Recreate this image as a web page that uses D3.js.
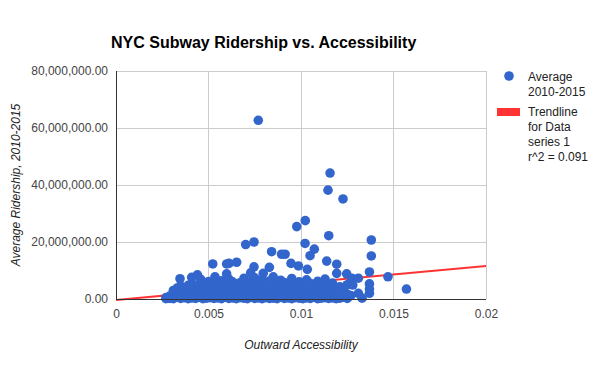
<!DOCTYPE html>
<html>
<head>
<meta charset="utf-8">
<script src="https://cdn.jsdelivr.net/npm/d3@7"></script>
<style>
body{margin:0;background:#fff;}
text{font-family:"Liberation Sans",Arial,sans-serif;}
</style>
</head>
<body>
<div id="plot"></div>
<script>
// outward accessibility vs average ridership (millions)
var stations = [
[0.0027,0.1],[0.0027,0.5],[0.0029,0.2],[0.0029,1.0],[0.0029,0.4],
[0.0031,0.1],[0.0031,1.5],[0.0031,3.0],[0.0033,0.6],[0.0033,2.2],[0.0033,3.8],
[0.0035,0.2],[0.0035,1.2],[0.0035,2.8],[0.0035,4.5],[0.0037,0.5],[0.0037,1.8],[0.0037,3.5],
[0.0039,0.1],[0.0039,1.0],[0.0039,2.6],[0.0039,4.8],[0.0041,0.4],[0.0041,2.0],[0.0041,3.4],[0.0041,5.5],
[0.0043,0.2],[0.0043,1.4],[0.0043,2.9],[0.0043,4.2],[0.0045,0.6],[0.0045,1.9],[0.0045,3.6],[0.0045,5.2],
[0.0047,0.1],[0.0047,1.2],[0.0047,2.5],[0.0047,4.4],[0.0049,0.3],[0.0049,1.7],[0.0049,3.1],[0.0049,5.6],
[0.0051,0.5],[0.0051,2.2],[0.0051,4.0],[0.0053,0.2],[0.0053,1.1],[0.0053,2.8],[0.0053,4.7],[0.0053,6.2],
[0.0055,0.4],[0.0055,1.6],[0.0055,3.3],[0.0055,5.0],[0.0057,0.1],[0.0057,2.0],[0.0057,3.7],[0.0057,6.4],
[0.0059,0.6],[0.0059,1.3],[0.0059,2.6],[0.0059,4.5],[0.0061,0.2],[0.0061,1.8],[0.0061,3.2],[0.0061,5.3],[0.0061,7.0],
[0.0063,0.4],[0.0063,1.0],[0.0063,2.4],[0.0063,4.1],[0.0063,6.0],[0.0065,0.1],[0.0065,1.5],[0.0065,3.0],[0.0065,4.8],
[0.0067,0.5],[0.0067,2.1],[0.0067,3.6],[0.0067,5.7],[0.0069,0.3],[0.0069,1.2],[0.0069,2.7],[0.0069,4.3],[0.0069,6.5],
[0.0071,0.1],[0.0071,1.7],[0.0071,3.4],[0.0071,5.1],[0.0073,0.6],[0.0073,2.3],[0.0073,4.0],[0.0073,6.1],
[0.0075,0.2],[0.0075,1.4],[0.0075,2.9],[0.0075,4.6],[0.0075,7.4],[0.0077,0.4],[0.0077,1.9],[0.0077,3.5],[0.0077,5.5],
[0.0079,0.1],[0.0079,1.1],[0.0079,2.6],[0.0079,4.2],[0.0079,6.8],[0.0081,0.5],[0.0081,2.0],[0.0081,3.3],[0.0081,5.0],
[0.0083,0.2],[0.0083,1.6],[0.0083,3.8],[0.0083,6.3],[0.0085,0.3],[0.0085,1.3],[0.0085,2.8],[0.0085,4.5],[0.0085,7.8],
[0.0087,0.1],[0.0087,2.2],[0.0087,3.6],[0.0087,5.4],[0.0089,0.6],[0.0089,1.4],[0.0089,3.0],[0.0089,4.8],[0.0089,6.6],
[0.0091,0.2],[0.0091,1.8],[0.0091,3.4],[0.0091,5.8],[0.0093,0.4],[0.0093,1.0],[0.0093,2.5],[0.0093,4.1],
[0.0095,0.1],[0.0095,1.6],[0.0095,3.2],[0.0095,5.2],[0.0095,7.2],[0.0097,0.5],[0.0097,2.0],[0.0097,3.7],[0.0097,4.6],
[0.0099,0.3],[0.0099,1.2],[0.0099,2.9],[0.0099,6.0],[0.0101,0.1],[0.0101,1.7],[0.0101,3.5],[0.0101,5.0],
[0.0103,0.4],[0.0103,2.3],[0.0103,4.2],[0.0103,6.7],[0.0105,0.2],[0.0105,1.1],[0.0105,2.7],[0.0105,5.5],
[0.0107,0.6],[0.0107,1.9],[0.0107,3.3],[0.0107,4.4],[0.0109,0.1],[0.0109,1.4],[0.0109,3.9],[0.0109,6.2],
[0.0111,0.3],[0.0111,2.1],[0.0111,3.0],[0.0111,5.1],[0.0113,0.5],[0.0113,1.3],[0.0113,2.6],[0.0113,4.5],[0.0113,7.0],
[0.0115,0.2],[0.0115,1.8],[0.0115,3.6],[0.0117,0.4],[0.0117,1.0],[0.0117,2.4],[0.0117,5.6],
[0.0119,0.1],[0.0119,1.5],[0.0119,3.2],[0.0121,0.3],[0.0121,2.0],[0.0121,4.3],
[0.0123,0.6],[0.0123,1.2],[0.0123,2.8],[0.0125,0.2],[0.0125,1.7],[0.0125,5.0],
[0.01265,5.6],[0.0127,1.2],[0.01275,7.3],[0.0128,4.9],[0.0131,7.3],[0.0131,2.0],[0.0133,0.3],
[0.0137,2.0],[0.0137,3.5],[0.0137,5.3],[0.0137,9.5],[0.0138,15.1],[0.0138,20.7],[0.0147,7.8],[0.0157,3.5],
[0.00769,62.7],[0.01157,44.2],[0.01146,38.2],[0.01227,35.1],[0.01023,27.5],[0.00977,25.4],[0.0115,22.2],
[0.00746,20.0],[0.00701,19.1],[0.01022,19.5],[0.00841,16.6],[0.00895,15.7],[0.00914,15.7],[0.01072,17.5],
[0.01049,15.2],[0.00652,12.9],[0.00946,12.5],[0.00986,11.6],[0.01139,13.3],[0.01193,12.2],[0.00746,11.3],
[0.00829,11.1],[0.00611,12.5],[0.00523,12.3],[0.00598,12.3],[0.00728,9.2],[0.00796,9.0],[0.01034,10.4],
[0.01247,8.8],[0.01193,9.0],[0.00692,7.3],[0.00346,7.1],[0.00409,7.6],[0.00440,8.5],[0.00458,6.9],
[0.00535,7.8],[0.00598,8.8],[0.00501,6.1]
];

var xTicks = [0, 0.005, 0.01, 0.015, 0.02];
var yTicks = [0, 20, 40, 60, 80];
// trendline y = slope*x + intercept (millions), r^2 = 0.091
var trendSlope = 597;
var trendIntercept = -0.35;
var legendSeries = ['Average', '2010-2015'];
var legendTrend = ['Trendline', 'for Data', 'series 1', 'r^2 = 0.091'];

var W = 600, H = 371;
var margin = {t:71, r:114, b:72, l:116};

var svg = d3.select('#plot').append('svg')
	.attr('width', W)
	.attr('height', H);

var x = d3.scaleLinear().domain([0, 0.02]).range([margin.l, W - margin.r]);
var y = d3.scaleLinear().domain([0, 80]).range([H - margin.b, margin.t]);

// gridlines
svg.append('g').selectAll('line').data(yTicks.slice(1)).enter().append('line')
	.attr('x1', x(0)).attr('x2', x(0.02))
	.attr('y1', function(d){return y(d);}).attr('y2', function(d){return y(d);})
	.attr('stroke', '#cccccc').attr('stroke-width', 1).attr('shape-rendering', 'crispEdges');
svg.append('g').selectAll('line').data(xTicks.slice(1)).enter().append('line')
	.attr('x1', function(d){return x(d);}).attr('x2', function(d){return x(d);})
	.attr('y1', y(0)).attr('y2', y(80))
	.attr('stroke', '#cccccc').attr('stroke-width', 1).attr('shape-rendering', 'crispEdges');

// axes, labels only
var yAxis = d3.axisLeft(y).tickValues(yTicks).tickSize(0).tickPadding(8)
	.tickFormat(function(d){ return d3.format(',.2f')(d * 1e6); });
var gy = svg.append('g').attr('transform', 'translate(' + x(0) + ',0)').call(yAxis);
gy.select('.domain').remove();
gy.selectAll('text').attr('font-size', 12).attr('fill', '#444').attr('font-family', '"Liberation Sans",Arial,sans-serif');

var xAxis = d3.axisBottom(x).tickValues(xTicks).tickSize(0).tickPadding(10)
	.tickFormat(function(d){ return d === 0 ? '0' : String(d); });
var gx = svg.append('g').attr('transform', 'translate(0,' + y(0) + ')').call(xAxis);
gx.select('.domain').remove();
gx.selectAll('text').attr('font-size', 12).attr('fill', '#444').attr('font-family', '"Liberation Sans",Arial,sans-serif');

// trendline (under the points)
svg.append('clipPath').attr('id', 'clip').append('rect')
	.attr('x', x(0)).attr('y', y(80)).attr('width', x(0.02) - x(0)).attr('height', y(0) - y(80) + 2);
svg.append('line')
	.attr('clip-path', 'url(#clip)')
	.attr('x1', x(0)).attr('y1', y(trendSlope * 0 + trendIntercept))
	.attr('x2', x(0.02)).attr('y2', y(trendSlope * 0.02 + trendIntercept))
	.attr('stroke', '#ff3333').attr('stroke-width', 2);

// points
svg.append('g').selectAll('circle').data(stations).enter().append('circle')
	.attr('cx', function(d){return x(d[0]);})
	.attr('cy', function(d){return y(d[1]);})
	.attr('r', 4.8)
	.attr('fill', '#3366cc');

// axis baselines
svg.append('line').attr('x1', x(0)).attr('x2', x(0.02)).attr('y1', y(0)).attr('y2', y(0))
	.attr('stroke', '#333').attr('stroke-width', 1).attr('shape-rendering', 'crispEdges');
svg.append('line').attr('x1', x(0)).attr('x2', x(0)).attr('y1', y(0)).attr('y2', y(80))
	.attr('stroke', '#333').attr('stroke-width', 1).attr('shape-rendering', 'crispEdges');

// title
svg.append('text').attr('x', 111).attr('y', 48)
	.attr('font-size', 16).attr('font-weight', 'bold').attr('fill', '#000')
	.text('NYC Subway Ridership vs. Accessibility');

// axis titles
svg.append('text').attr('x', (x(0) + x(0.02)) / 2).attr('y', 349)
	.attr('text-anchor', 'middle').attr('font-size', 12).attr('font-style', 'italic').attr('fill', '#222')
	.text('Outward Accessibility');
svg.append('text').attr('transform', 'translate(20,' + ((y(0) + y(80)) / 2) + ') rotate(-90)')
	.attr('text-anchor', 'middle').attr('font-size', 12).attr('font-style', 'italic').attr('fill', '#222')
	.text('Average Ridership, 2010-2015');

// legend
var leg = svg.append('g');
leg.append('circle').attr('cx', 509).attr('cy', 76).attr('r', 4.8).attr('fill', '#3366cc');
leg.selectAll('text.s').data(legendSeries).enter().append('text').attr('class', 's')
	.attr('x', 528).attr('y', function(d, i){return 81 + i * 15;})
	.attr('font-size', 12).attr('fill', '#222').text(function(d){return d;});
leg.append('rect').attr('x', 497).attr('y', 108).attr('width', 23).attr('height', 8).attr('fill', '#ff3333');
leg.selectAll('text.t').data(legendTrend).enter().append('text').attr('class', 't')
	.attr('x', 528).attr('y', function(d, i){return 116 + i * 15;})
	.attr('font-size', 12).attr('fill', '#222').text(function(d){return d;});
</script>
</body>
</html>
